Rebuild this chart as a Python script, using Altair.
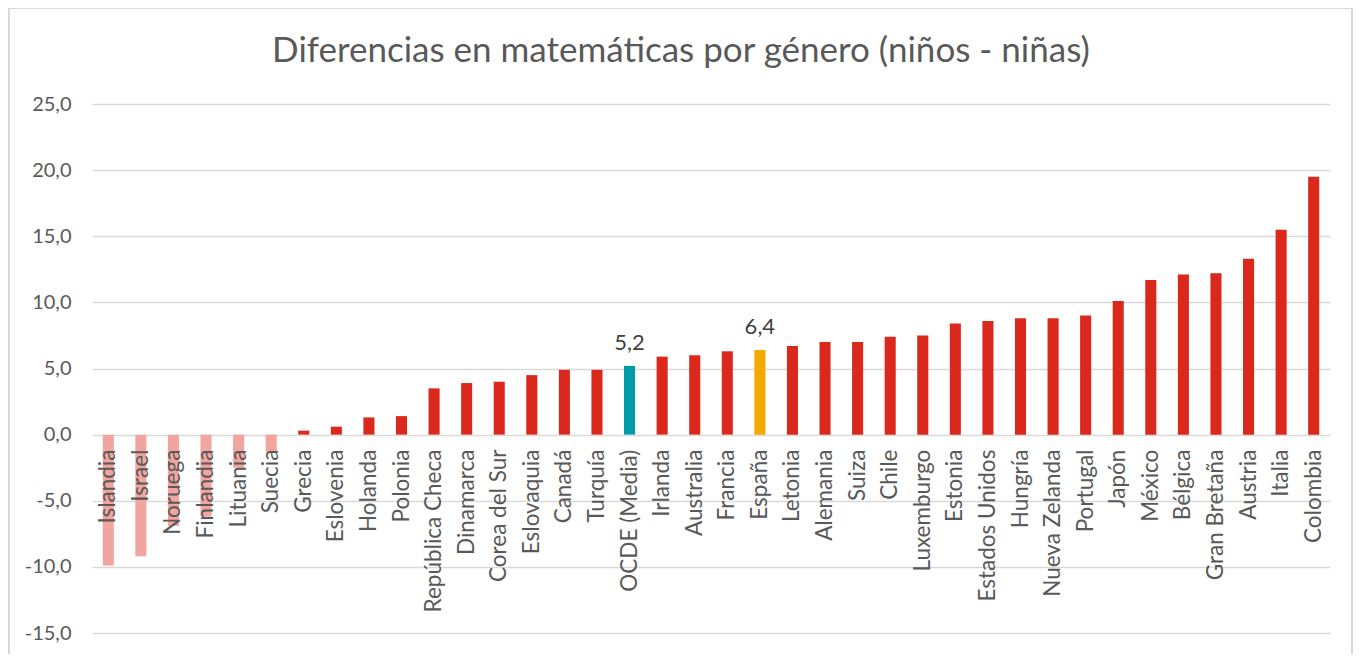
import altair as alt
import pandas as pd

paises = ["Islandia", "Israel", "Noruega", "Finlandia", "Lituania", "Suecia", "Grecia",
          "Eslovenia", "Holanda", "Polonia", "República Checa", "Dinamarca", "Corea del Sur",
          "Eslovaquia", "Canadá", "Turquía", "OCDE (Media)", "Irlanda", "Australia", "Francia",
          "España", "Letonia", "Alemania", "Suiza", "Chile", "Luxemburgo", "Estonia",
          "Estados Unidos", "Hungría", "Nueva Zelanda", "Portugal", "Japón", "México",
          "Bélgica", "Gran Bretaña", "Austria", "Italia", "Colombia"]
valores = [-9.9, -9.2, -6.9, -6.2, -2.5, -1.3, 0.3,
           0.6, 1.3, 1.4, 3.5, 3.9, 4.0,
           4.5, 4.9, 4.9, 5.2, 5.9, 6.0, 6.3,
           6.4, 6.7, 7.0, 7.0, 7.4, 7.5, 8.4,
           8.6, 8.8, 8.8, 9.0, 10.1, 11.7,
           12.1, 12.2, 13.3, 15.5, 19.5]
grupos = ["negativo"] * 6 + ["positivo"] * 10 + ["OCDE"] + ["positivo"] * 3 + ["España"] + ["positivo"] * 17
etiquetados = ["OCDE (Media)", "España"]
titulo = "Diferencias en matemáticas por género (niños - niñas)"

y_ticks = [-15, -10, -5, 0, 5, 10, 15, 20, 25]

df = pd.DataFrame({"pais": paises, "valor": valores, "grupo": grupos})

FONT = "Lato"
GRAY = "#595959"
FMT = "replace(replace(format({v}, '.1f'), '.', ','), '\u2212', '-')"

x_enc = alt.X("pais:N", sort=paises, axis=None,
              scale=alt.Scale(paddingInner=0.66, paddingOuter=0.33))
y_scale = alt.Scale(domain=[-15, 25], nice=False, zero=False)

base = alt.Chart(df)
first = base.transform_filter(alt.datum.pais == paises[0])

frame = first.mark_rect(fill="white", fillOpacity=0, stroke="#D9D9D9", strokeWidth=2).encode(
    x=alt.value(-83), x2=alt.value(1260), y=alt.value(-96), y2=alt.value(580)
)

title = first.mark_text(font=FONT, fontSize=35, color=GRAY, baseline="alphabetic").encode(
    x=alt.value(589), y=alt.value(-42), text=alt.value(titulo)
)

bars = base.mark_bar().encode(
    x=x_enc,
    y=alt.Y("valor:Q", scale=y_scale, title=None,
            axis=alt.Axis(values=y_ticks, domain=False, ticks=False, labelPadding=21,
                          labelExpr=FMT.format(v="datum.value"),
                          labelFont=FONT, labelFontSize=20, labelColor=GRAY,
                          gridColor="#D9D9D9", gridWidth=1.6)),
    color=alt.Color("grupo:N", legend=None,
                    scale=alt.Scale(domain=["negativo", "positivo", "OCDE", "España"],
                                    range=["#F2A59F", "#DA291C", "#009BA6", "#F2A900"])),
)

names = base.mark_text(angle=270, align="right", baseline="middle", yOffset=15,
                       font=FONT, fontSize=22.5, color=GRAY).encode(
    x=x_enc, y=alt.Y(datum=0, scale=y_scale), text="pais:N"
)

vals = base.mark_text(baseline="alphabetic", dy=-16, font=FONT, fontSize=22, color="#404040").encode(
    x=x_enc, y=alt.Y("valor:Q", scale=y_scale), text="etiqueta:N"
).transform_filter(
    alt.FieldOneOfPredicate(field="pais", oneOf=etiquetados)
).transform_calculate(
    etiqueta=FMT.format(v="datum.valor")
)

chart = alt.layer(frame, title, bars, names, vals).properties(
    width=1238, height=529,
    autosize=alt.AutoSizeParams(type="none"),
    padding={"left": 84, "top": 96, "right": 24, "bottom": 21},
).configure(background="white").configure_view(stroke=None)

chart.save("out.html", embed_options={"renderer": "svg", "actions": False})
